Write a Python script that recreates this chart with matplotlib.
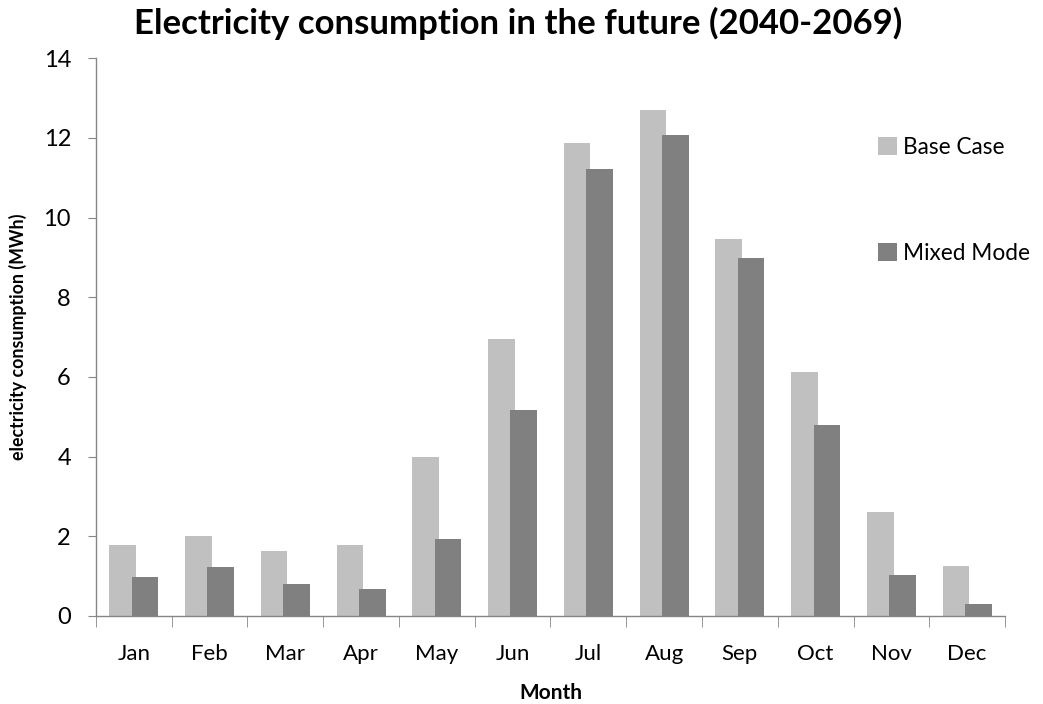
import matplotlib
matplotlib.use("Agg")
import matplotlib.pyplot as plt
import numpy as np

months = ["Jan", "Feb", "Mar", "Apr", "May", "Jun", "Jul", "Aug", "Sep", "Oct", "Nov", "Dec"]
base_case = [1.79, 2.02, 1.64, 1.79, 3.99, 6.95, 11.88, 12.71, 9.47, 6.12, 2.60, 1.25]
mixed_mode = [0.99, 1.22, 0.80, 0.67, 1.92, 5.18, 11.23, 12.07, 8.98, 4.80, 1.03, 0.29]

plt.rcParams['font.family'] = ['Lato', 'DejaVu Sans']

fig = plt.figure(figsize=(10.43, 7.04), dpi=100)
ax = fig.add_axes([0.092, 0.125, 0.8716, 0.7924])

x = np.arange(len(months))
w = 0.352
off = 0.148
ax.bar(x - off, base_case, width=w, color="#C0C0C0", label="Base Case", zorder=2)
ax.bar(x + off, mixed_mode, width=w, color="#808080", label="Mixed Mode", zorder=3)

ax.set_xlim(-0.5, len(months) - 0.5)
ax.set_ylim(0, 14)
ax.set_yticks(np.arange(0, 15, 2))
ax.set_xticks(x)
ax.set_xticklabels(months, fontsize=16)
ax.set_xticks(np.arange(-0.5, len(months), 1), minor=True)
ax.tick_params(axis='x', which='major', length=0, pad=20)
ax.tick_params(axis='x', which='minor', length=8, color="#868686", direction='out')
ax.tick_params(axis='y', which='major', length=6, color="#868686", labelsize=17, pad=12)

for s in ["top", "right"]:
    ax.spines[s].set_visible(False)
for s in ["left", "bottom"]:
    ax.spines[s].set_color("#868686")
    ax.spines[s].set_linewidth(1.0)

ax.set_xlabel("Month", fontsize=15, fontweight="bold", labelpad=14)
ax.set_ylabel("electricity consumption (MWh)", fontsize=12.8, fontweight="bold", labelpad=12)
fig.suptitle("Electricity consumption in the future (2040-2069)", fontsize=25, fontweight="bold",
             x=0.497, y=0.99)

leg = ax.legend(loc="upper left", bbox_to_anchor=(0.85, 0.875), frameon=False, fontsize=16.3,
                handlelength=0.85, handleheight=0.85, handletextpad=0.25, labelspacing=3.75,
                borderaxespad=0)

fig.savefig("out.png", dpi=100)
